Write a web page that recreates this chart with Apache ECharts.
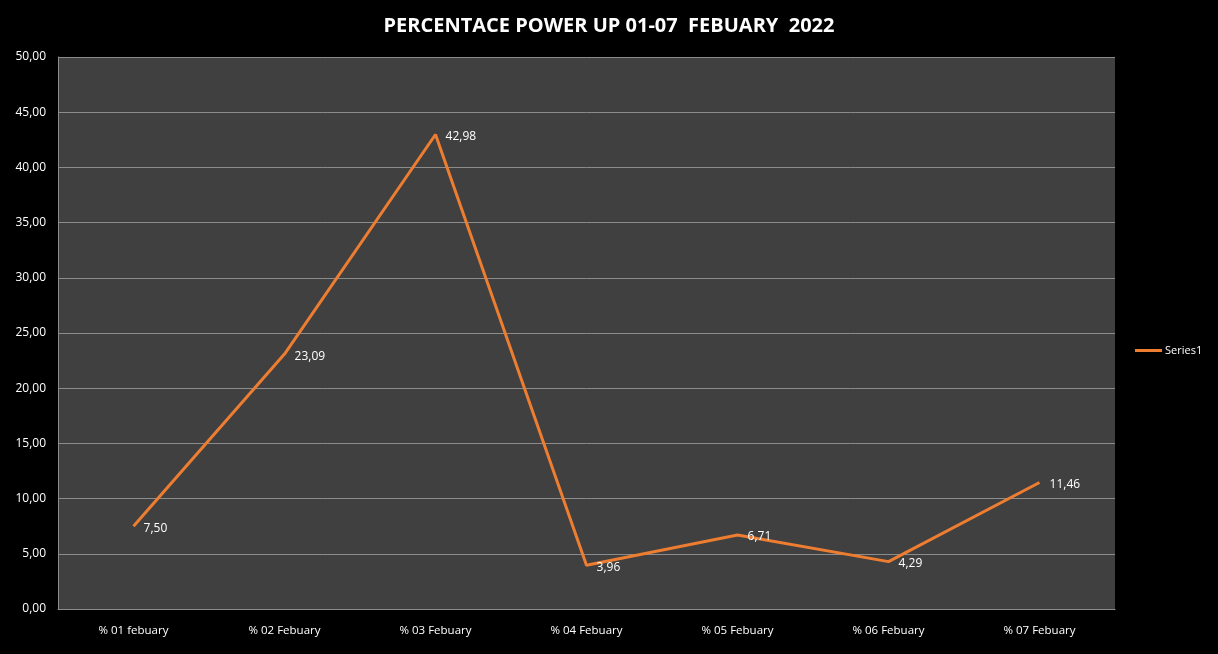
<!DOCTYPE html>
<html>
<head>
<meta charset="utf-8">
<script src="https://cdn.jsdelivr.net/npm/echarts@6/dist/echarts.min.js"></script>
<style>
html,body{margin:0;padding:0;background:#000;}
#c{width:1218px;height:654px;}
</style>
</head>
<body>
<div id="c"></div>
<script>
const titleText = 'PERCENTACE POWER UP 01-07  FEBUARY  2022';
const categories = ['% 01 febuary', '% 02 Febuary', '% 03 Febuary', '% 04 Febuary', '% 05 Febuary', '% 06 Febuary', '% 07 Febuary'];
const seriesName = 'Series1';
const values = [7.50, 23.09, 42.98, 3.96, 6.71, 4.29, 11.46];
const yMin = 0, yMax = 50, yStep = 5;

const fmt = v => Number(v).toFixed(2).replace('.', ',');
const font = '"Open Sans", "Noto Sans", sans-serif';

const chart = echarts.init(document.getElementById('c'), null, {renderer: 'canvas'});
chart.setOption({
  backgroundColor: '#000000',
  animation: false,
  title: {
    text: titleText,
    left: 'center',
    top: 11,
    textStyle: {color: '#ffffff', fontSize: 20, fontWeight: 'bold', fontFamily: font}
  },
  legend: {
    data: [seriesName],
    orient: 'vertical',
    left: 1130,
    top: 340,
    icon: 'rect',
    itemWidth: 27,
    itemHeight: 3,
    itemGap: 4,
    textStyle: {color: '#ffffff', fontSize: 11, fontFamily: font, padding: [0,0,0,-2]}
  },
  grid: {
    left: 58, right: 103, top: 57, bottom: 45,
    show: true, backgroundColor: '#404040', borderWidth: 0
  },
  xAxis: {
    type: 'category',
    data: categories,
    boundaryGap: true,
    axisLine: {show: true, lineStyle: {color: '#8c8c8c', width: 1}},
    axisTick: {show: false},
    axisLabel: {color: '#ffffff', fontSize: 11.5, fontFamily: font, margin: 16}
  },
  yAxis: {
    type: 'value',
    min: yMin, max: yMax, interval: yStep,
    axisLine: {show: true, lineStyle: {color: '#8c8c8c', width: 1}},
    axisTick: {show: false},
    splitLine: {show: true, lineStyle: {color: '#8c8c8c', width: 1}},
    axisLabel: {color: '#ffffff', fontSize: 12, fontFamily: font, margin: 12, formatter: fmt}
  },
  series: [{
    name: seriesName,
    type: 'line',
    data: values,
    symbol: 'circle',
    symbolSize: 0.1,
    showSymbol: true,
    lineStyle: {color: '#ED7D31', width: 3},
    itemStyle: {color: '#ED7D31'},
    label: {
      show: true,
      position: 'right',
      distance: 10,
      offset: [0, 2],
      color: '#ffffff',
      fontSize: 12,
      fontFamily: font,
      formatter: p => fmt(p.value)
    }
  }]
});
</script>
</body>
</html>
